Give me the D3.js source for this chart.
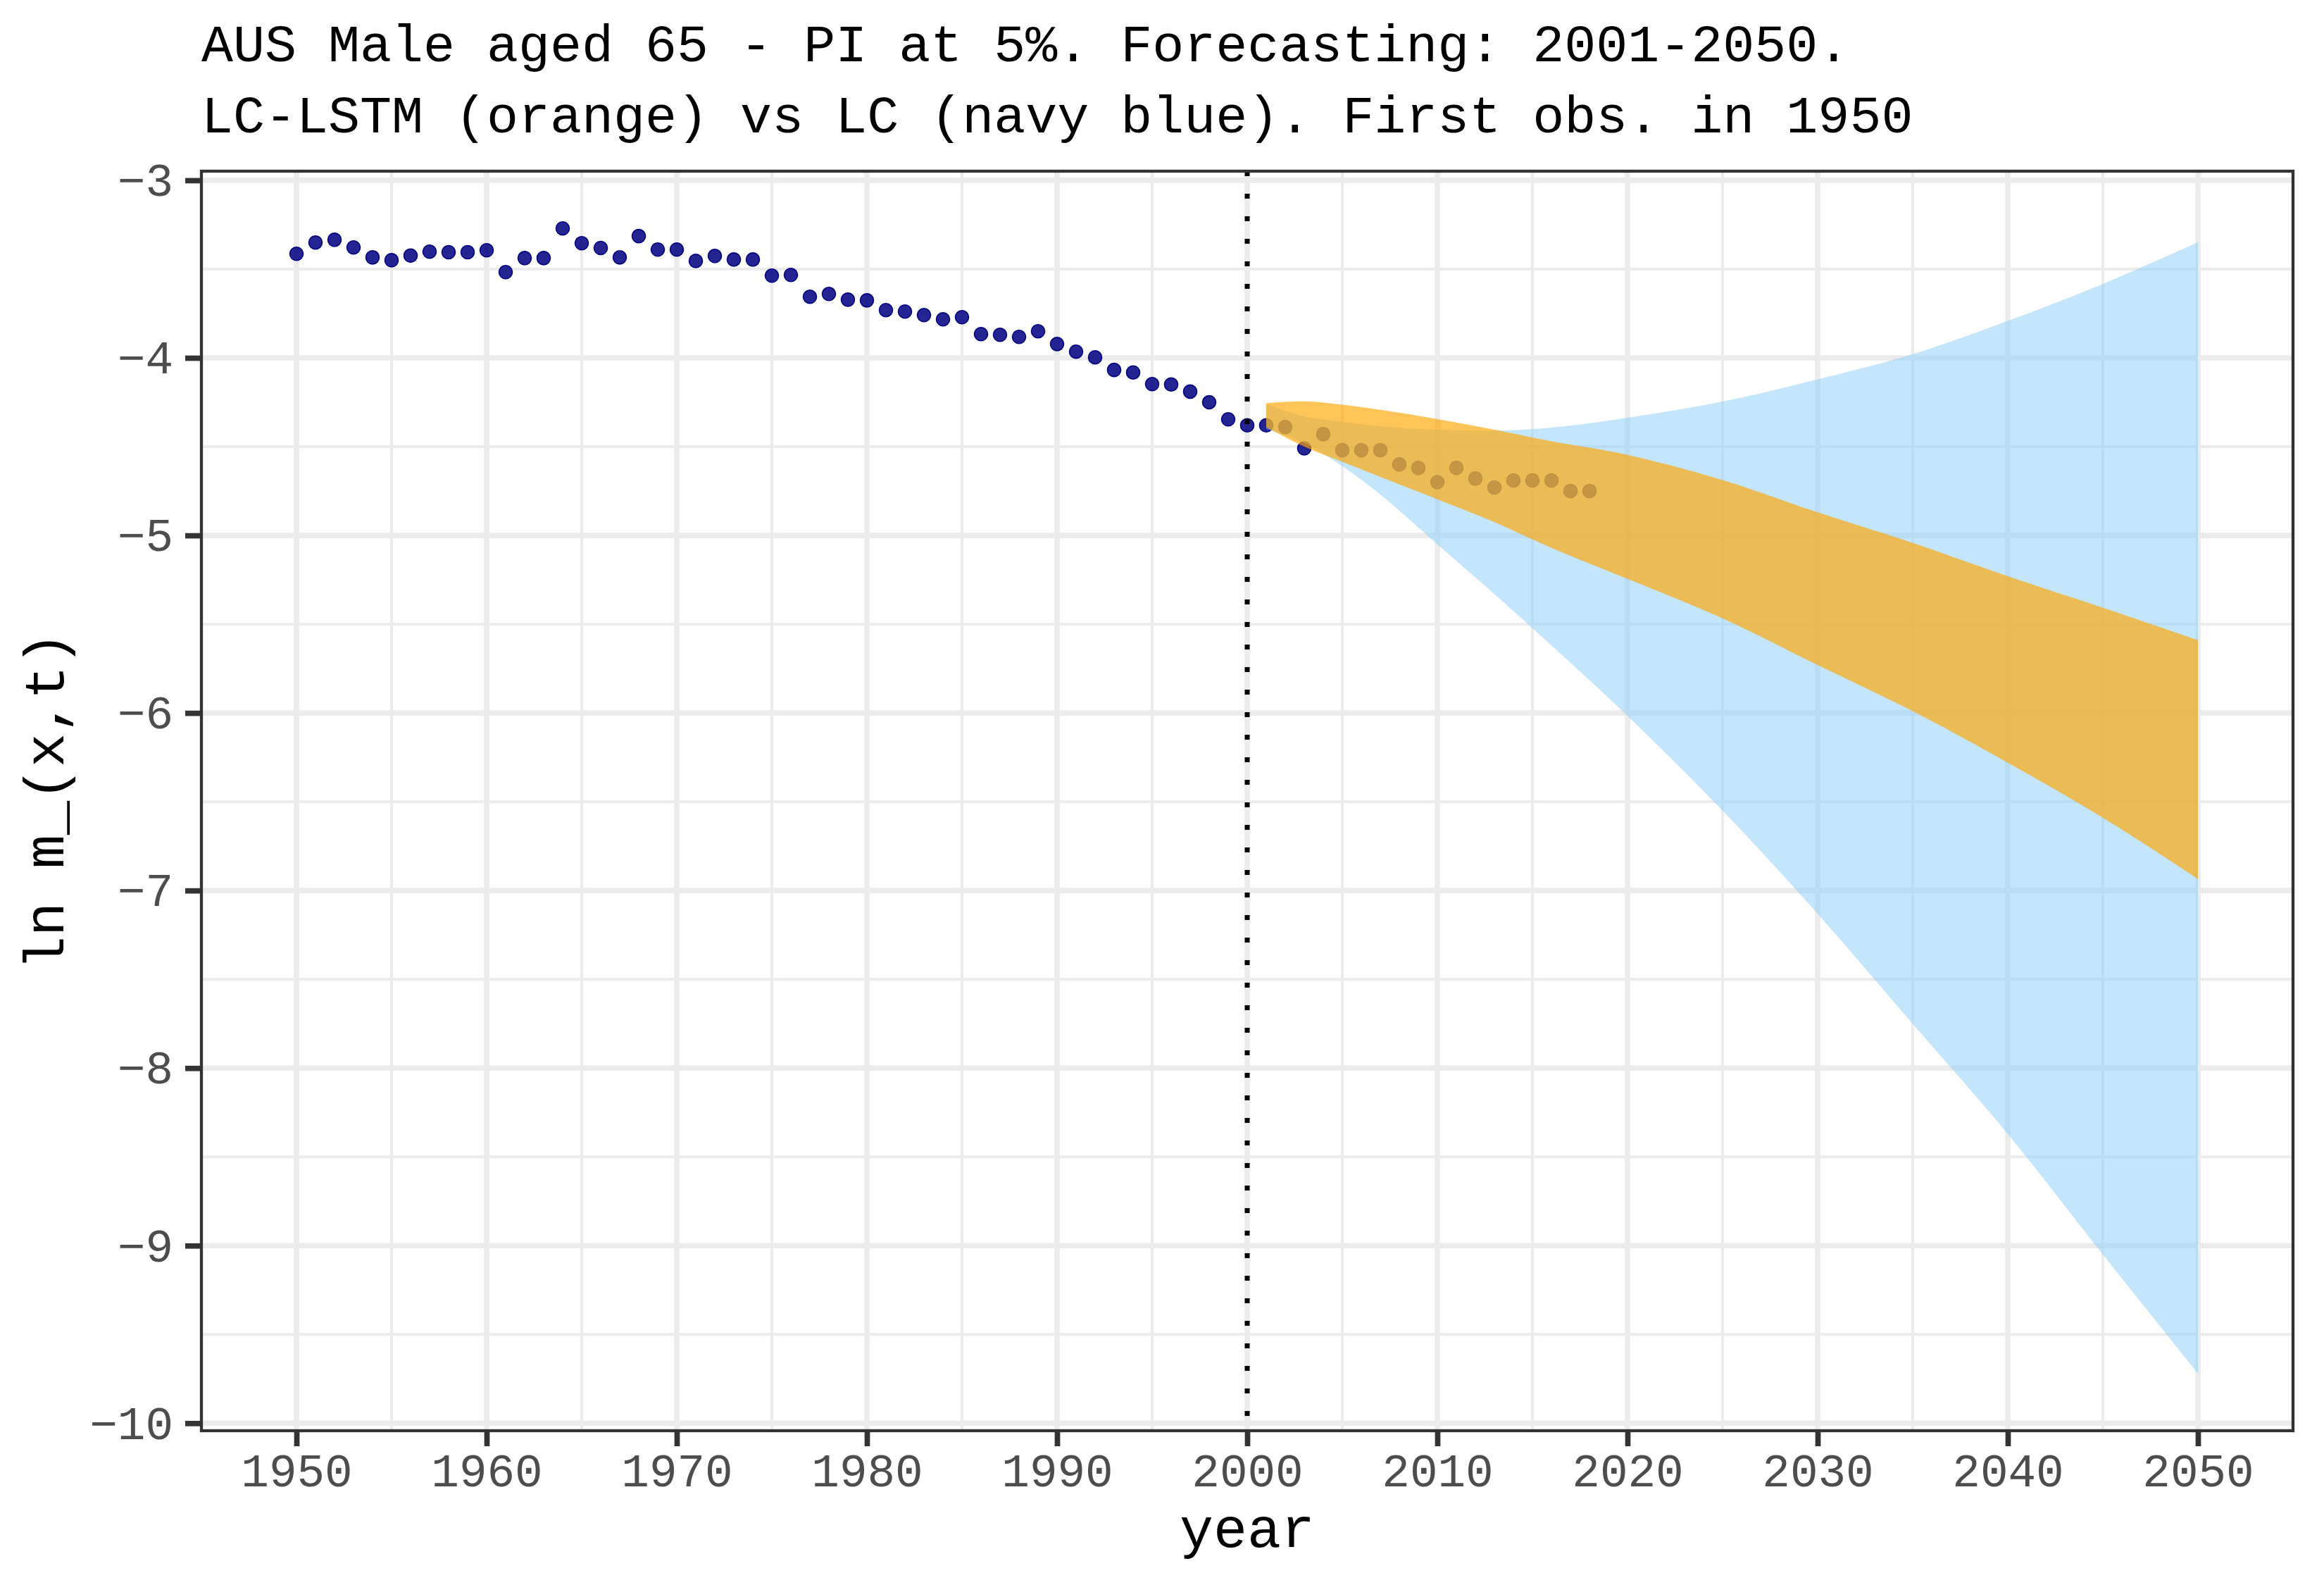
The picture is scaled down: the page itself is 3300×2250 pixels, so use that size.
<!DOCTYPE html>
<html>
<head>
<meta charset="utf-8">
<script src="https://d3js.org/d3.v7.min.js"></script>
<style>
  body { margin: 0; background: #fff; }
  text { font-family: "Liberation Mono", "Courier New", monospace; }
</style>
</head>
<body>
<svg id="chart" width="3300" height="2250"></svg>
<script>
'use strict';

// observed log death rates, AUS male aged 65
var obsYears = [1950, 1951, 1952, 1953, 1954, 1955, 1956, 1957, 1958, 1959,
  1960, 1961, 1962, 1963, 1964, 1965, 1966, 1967, 1968, 1969,
  1970, 1971, 1972, 1973, 1974, 1975, 1976, 1977, 1978, 1979,
  1980, 1981, 1982, 1983, 1984, 1985, 1986, 1987, 1988, 1989,
  1990, 1991, 1992, 1993, 1994, 1995, 1996, 1997, 1998, 1999,
  2000, 2001, 2002, 2003, 2004, 2005, 2006, 2007, 2008, 2009,
  2010, 2011, 2012, 2013, 2014, 2015, 2016, 2017, 2018];
var obsValues = [-3.414, -3.350, -3.335, -3.378, -3.434, -3.450, -3.424, -3.402, -3.405, -3.405,
  -3.394, -3.517, -3.438, -3.438, -3.271, -3.354, -3.381, -3.434, -3.314, -3.390,
  -3.390, -3.454, -3.426, -3.446, -3.446, -3.537, -3.533, -3.656, -3.640, -3.672,
  -3.676, -3.731, -3.739, -3.759, -3.783, -3.771, -3.866, -3.870, -3.882, -3.850,
  -3.922, -3.965, -3.997, -4.068, -4.082, -4.148, -4.150, -4.190, -4.250, -4.346,
  -4.380, -4.380, -4.390, -4.510, -4.430, -4.520, -4.520, -4.520, -4.600, -4.620,
  -4.700, -4.620, -4.680, -4.730, -4.690, -4.690, -4.690, -4.750, -4.750];

// prediction intervals
var bandYears = [2001, 2003, 2005, 2007, 2010, 2013, 2016, 2020, 2025, 2030, 2035, 2040, 2045, 2050];
var lstmLower = [-4.39, -4.50, -4.585, -4.67, -4.796, -4.925, -5.07, -5.245, -5.467, -5.73, -5.99, -6.28, -6.59, -6.935];
var lstmUpper = [-4.255, -4.245, -4.264, -4.293, -4.345, -4.405, -4.47, -4.546, -4.688, -4.87, -5.042, -5.23, -5.407, -5.59];
var lcLower = [-4.40, -4.48, -4.61, -4.77, -5.05, -5.33, -5.62, -6.016, -6.55, -7.131, -7.751, -8.371, -9.05, -9.72];
var lcUpper = [-4.26, -4.33, -4.36, -4.386, -4.405, -4.41, -4.393, -4.337, -4.246, -4.121, -3.979, -3.792, -3.583, -3.349];

var xBreaks = [1950, 1960, 1970, 1980, 1990, 2000, 2010, 2020, 2030, 2040, 2050];
var xMinor = [1955, 1965, 1975, 1985, 1995, 2005, 2015, 2025, 2035, 2045];
var yBreaks = [-10, -9, -8, -7, -6, -5, -4, -3];
var yMinor = [-9.5, -8.5, -7.5, -6.5, -5.5, -4.5, -3.5];
var forecastStart = 2000;

var titleLines = [
  'AUS Male aged 65 - PI at 5%. Forecasting: 2001-2050.',
  'LC-LSTM (orange) vs LC (navy blue). First obs. in 1950'
];

var svg = d3.select('#chart');
var panel = { left: 286, right: 3256, top: 243, bottom: 2031 };

// ggplot style 5% expansion
var xExt = [d3.min(obsYears), d3.max(bandYears)];
var xPad = (xExt[1] - xExt[0]) * 0.05;
var x = d3.scaleLinear().domain([xExt[0] - xPad, xExt[1] + xPad]).range([panel.left, panel.right]);

var allY = obsValues.concat(lstmLower, lstmUpper, lcLower, lcUpper);
var yExt = d3.extent(allY);
var yPad = (yExt[1] - yExt[0]) * 0.05;
var y = d3.scaleLinear().domain([yExt[0] - yPad, yExt[1] + yPad]).range([panel.bottom, panel.top]);

svg.append('rect').attr('width', 3300).attr('height', 2250).attr('fill', '#fff');

svg.append('defs').append('clipPath').attr('id', 'clip')
  .append('rect')
  .attr('x', panel.left).attr('y', panel.top)
  .attr('width', panel.right - panel.left).attr('height', panel.bottom - panel.top);

var plot = svg.append('g').attr('clip-path', 'url(#clip)');

// grid
plot.selectAll('.ygmin').data(yMinor).enter().append('line')
  .attr('x1', panel.left).attr('x2', panel.right)
  .attr('y1', function(d) { return y(d); }).attr('y2', function(d) { return y(d); })
  .attr('stroke', '#ebebeb').attr('stroke-width', 3.9);
plot.selectAll('.xgmin').data(xMinor).enter().append('line')
  .attr('y1', panel.top).attr('y2', panel.bottom)
  .attr('x1', function(d) { return x(d); }).attr('x2', function(d) { return x(d); })
  .attr('stroke', '#ebebeb').attr('stroke-width', 3.9);
plot.selectAll('.ygmaj').data(yBreaks).enter().append('line')
  .attr('x1', panel.left).attr('x2', panel.right)
  .attr('y1', function(d) { return y(d); }).attr('y2', function(d) { return y(d); })
  .attr('stroke', '#ebebeb').attr('stroke-width', 7.7);
plot.selectAll('.xgmaj').data(xBreaks).enter().append('line')
  .attr('y1', panel.top).attr('y2', panel.bottom)
  .attr('x1', function(d) { return x(d); }).attr('x2', function(d) { return x(d); })
  .attr('stroke', '#ebebeb').attr('stroke-width', 7.7);

// observed points
plot.selectAll('circle.obs').data(obsYears).enter().append('circle')
  .attr('class', 'obs')
  .attr('cx', function(d) { return x(d); })
  .attr('cy', function(d, i) { return y(obsValues[i]); })
  .attr('r', 9.5)
  .attr('fill', 'navy').attr('fill-opacity', 0.86)
  .attr('stroke', 'navy').attr('stroke-width', 1.6);

function band(lower, upper) {
  return d3.area()
    .curve(d3.curveCatmullRom.alpha(0.5))
    .x(function(d) { return x(d); })
    .y0(function(d, i) { return y(lower[i]); })
    .y1(function(d, i) { return y(upper[i]); });
}

plot.append('path').datum(bandYears)
  .attr('d', band(lcLower, lcUpper))
  .attr('fill', 'lightskyblue').attr('fill-opacity', 0.5);

plot.append('path').datum(bandYears)
  .attr('d', band(lstmLower, lstmUpper))
  .attr('fill', 'orange').attr('fill-opacity', 0.66);

// start of forecasting
plot.append('line')
  .attr('x1', x(forecastStart)).attr('x2', x(forecastStart))
  .attr('y1', panel.top).attr('y2', panel.bottom)
  .attr('stroke', '#000').attr('stroke-width', 7)
  .attr('stroke-dasharray', '7,25');

// panel border
svg.append('rect')
  .attr('x', panel.left).attr('y', panel.top)
  .attr('width', panel.right - panel.left).attr('height', panel.bottom - panel.top)
  .attr('fill', 'none').attr('stroke', '#333333').attr('stroke-width', 4.3);

// axes
var xAxis = svg.append('g')
  .attr('transform', 'translate(0,' + panel.bottom + ')')
  .call(d3.axisBottom(x).tickValues(xBreaks).tickFormat(d3.format('d')).tickSizeInner(22).tickSizeOuter(0));
xAxis.select('.domain').remove();
xAxis.selectAll('line').attr('stroke', '#333333').attr('stroke-width', 7.7);
xAxis.selectAll('text')
  .attr('y', 79).attr('dy', null)
  .attr('fill', '#4d4d4d')
  .style('font-size', '66px');

var yAxis = svg.append('g')
  .attr('transform', 'translate(' + panel.left + ',0)')
  .call(d3.axisLeft(y).tickValues(yBreaks).tickSizeInner(23).tickSizeOuter(0));
yAxis.select('.domain').remove();
yAxis.selectAll('line').attr('stroke', '#333333').attr('stroke-width', 7.7);
yAxis.selectAll('text')
  .attr('x', -40).attr('dy', '0.33em')
  .attr('fill', '#4d4d4d')
  .style('font-size', '66px');
svg.selectAll('g').attr('font-family', null).attr('font-size', null);

// axis titles
svg.append('text')
  .attr('x', (panel.left + panel.right) / 2).attr('y', 2196)
  .attr('text-anchor', 'middle')
  .style('font-size', '80px')
  .text('year');

svg.append('text')
  .attr('transform', 'translate(90,' + ((panel.top + panel.bottom) / 2) + ') rotate(-90)')
  .attr('text-anchor', 'middle')
  .style('font-size', '80px')
  .text('ln m_(x,t)');

// title
svg.selectAll('text.title').data(titleLines).enter().append('text')
  .attr('class', 'title')
  .attr('x', panel.left)
  .attr('y', function(d, i) { return 87 + i * 101; })
  .style('font-size', '75px')
  .text(function(d) { return d; });
</script>
</body>
</html>
